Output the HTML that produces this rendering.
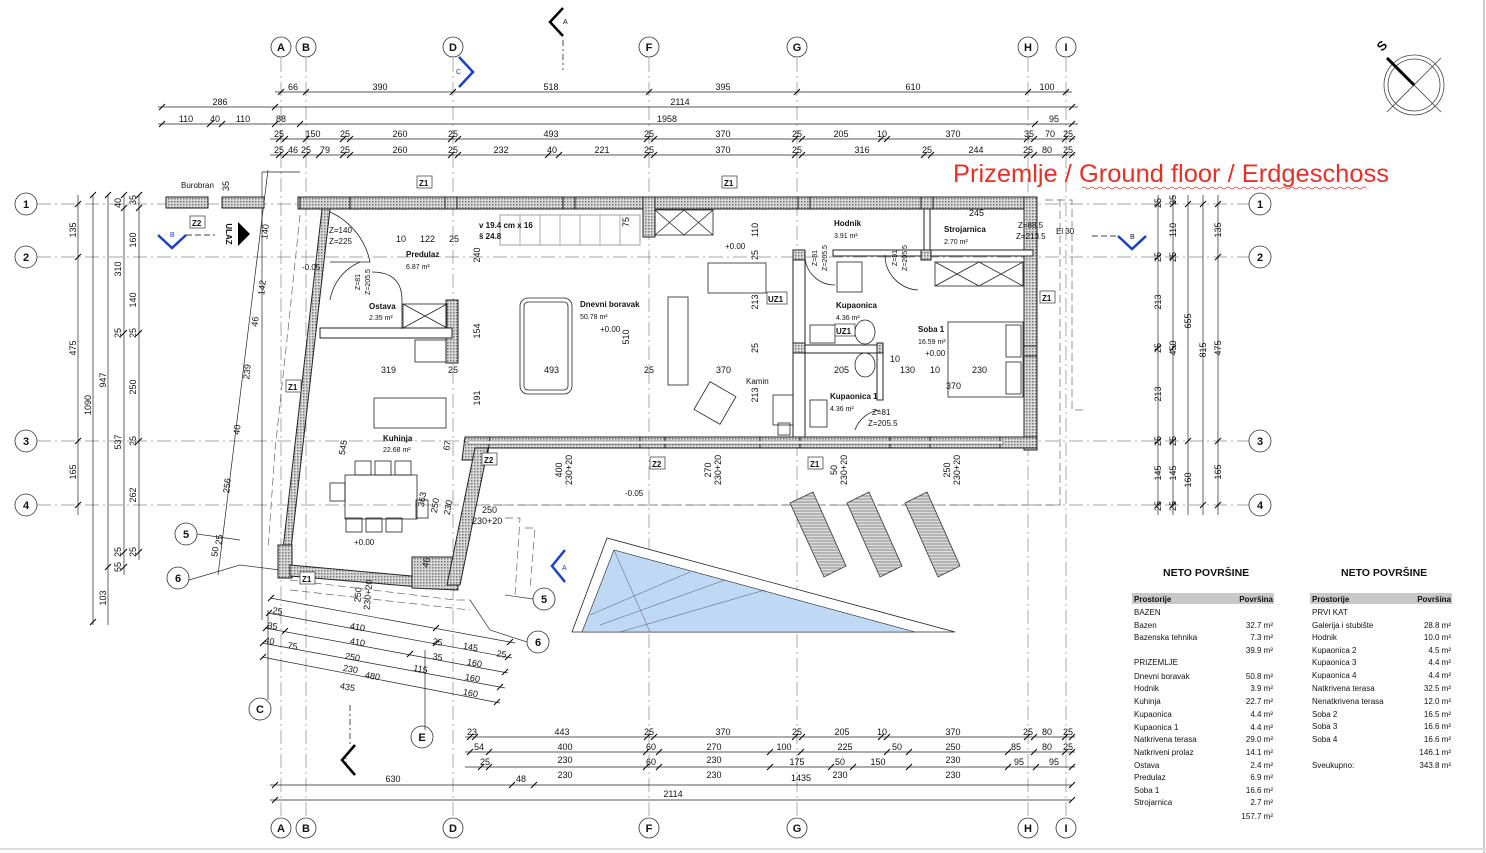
<!DOCTYPE html>
<html><head><meta charset="utf-8"><style>
html,body{margin:0;padding:0;background:#fff}
svg{display:block}
text{font-family:"Liberation Sans",Arial,sans-serif;fill:#111}
.d{font-size:9px}
.r{font-size:8px}
.s{font-size:7px}
.c{font-size:11px;font-weight:bold}
</style></head><body>
<svg width="1486" height="853" viewBox="0 0 1486 853" xmlns="http://www.w3.org/2000/svg">
<defs>
<pattern id="h" width="3" height="3" patternUnits="userSpaceOnUse"><rect width="3" height="3" fill="#d8d8d8"/><rect width="1.5" height="1.5" fill="#777"/></pattern>
<pattern id="ls" width="3" height="3" patternUnits="userSpaceOnUse"><rect width="3" height="3" fill="#ddd"/><line x1="0" y1="1" x2="3" y2="1" stroke="#555" stroke-width="0.6"/></pattern>
</defs>
<rect width="1486" height="853" fill="#fff"/>
<line x1="1484" y1="0" x2="1484" y2="853" stroke="#ccc" stroke-width="2"/>
<line x1="0" y1="849" x2="1486" y2="849" stroke="#ddd" stroke-width="2"/>

<!-- grid lines -->
<g stroke="#888" stroke-width="0.7" stroke-dasharray="14,4,2,4" fill="none">
<line x1="281" y1="58" x2="281" y2="818"/><line x1="306" y1="58" x2="306" y2="818"/>
<line x1="453" y1="58" x2="453" y2="818"/><line x1="649" y1="58" x2="649" y2="818"/>
<line x1="797" y1="58" x2="797" y2="818"/><line x1="1028" y1="58" x2="1028" y2="818"/>
<line x1="1066" y1="58" x2="1066" y2="818"/>
<line x1="37" y1="204" x2="1249" y2="204"/><line x1="37" y1="257" x2="1249" y2="257"/>
<line x1="37" y1="441" x2="1249" y2="441"/><line x1="37" y1="505" x2="1249" y2="505"/>
</g>
<!-- grid circles -->
<g fill="#fff" stroke="#333" stroke-width="0.8">
<circle cx="281" cy="47" r="10"/><circle cx="306" cy="47" r="10"/><circle cx="453" cy="47" r="10"/><circle cx="649" cy="47" r="10"/><circle cx="797" cy="47" r="10"/><circle cx="1028" cy="47" r="10"/><circle cx="1066" cy="47" r="10"/>
<circle cx="281" cy="828" r="10"/><circle cx="306" cy="828" r="10"/><circle cx="453" cy="828" r="10"/><circle cx="649" cy="828" r="10"/><circle cx="797" cy="828" r="10"/><circle cx="1028" cy="828" r="10"/><circle cx="1066" cy="828" r="10"/>
<circle cx="26" cy="204" r="11"/><circle cx="26" cy="257" r="11"/><circle cx="26" cy="441" r="11"/><circle cx="26" cy="505" r="11"/>
<circle cx="1260" cy="204" r="11"/><circle cx="1260" cy="257" r="11"/><circle cx="1260" cy="441" r="11"/><circle cx="1260" cy="505" r="11"/>
<circle cx="186" cy="534" r="11"/><circle cx="178" cy="578" r="11"/><circle cx="544" cy="599" r="11"/><circle cx="538" cy="642" r="11"/>
<circle cx="260" cy="709" r="11"/><circle cx="422" cy="737" r="11"/>
</g>
<g text-anchor="middle">
<text x="281" y="51" class="c">A</text><text x="306" y="51" class="c">B</text><text x="453" y="51" class="c">D</text><text x="649" y="51" class="c">F</text><text x="797" y="51" class="c">G</text><text x="1028" y="51" class="c">H</text><text x="1066" y="51" class="c">I</text>
<text x="281" y="832" class="c">A</text><text x="306" y="832" class="c">B</text><text x="453" y="832" class="c">D</text><text x="649" y="832" class="c">F</text><text x="797" y="832" class="c">G</text><text x="1028" y="832" class="c">H</text><text x="1066" y="832" class="c">I</text>
<text x="26" y="208" class="c">1</text><text x="26" y="261" class="c">2</text><text x="26" y="445" class="c">3</text><text x="26" y="509" class="c">4</text>
<text x="1260" y="208" class="c">1</text><text x="1260" y="261" class="c">2</text><text x="1260" y="445" class="c">3</text><text x="1260" y="509" class="c">4</text>
<text x="186" y="538" class="c">5</text><text x="178" y="582" class="c">6</text><text x="544" y="603" class="c">5</text><text x="538" y="646" class="c">6</text>
<text x="260" y="713" class="c">C</text><text x="422" y="741" class="c">E</text>
</g>
<g stroke="#333" stroke-width="0.7" fill="none">
<polyline points="197,534 240,540"/><polyline points="189,580 240,565 280,570"/>
<polyline points="533,599 505,595"/><polyline points="527,642 490,630 470,600"/>
</g>

<!-- horizontal dims -->
<g stroke="#222" stroke-width="0.7" fill="none">
<line x1="275" y1="92" x2="1072" y2="92"/>
<line x1="158" y1="107" x2="1078" y2="107"/>
<line x1="158" y1="124" x2="1078" y2="124"/>
<line x1="270" y1="139" x2="1075" y2="139"/>
<line x1="270" y1="155" x2="1075" y2="155"/>
<line x1="465" y1="737" x2="1075" y2="737"/>
<line x1="465" y1="752" x2="1075" y2="752"/>
<line x1="465" y1="767" x2="1075" y2="767"/>
<line x1="270" y1="785" x2="1072" y2="785"/>
<line x1="270" y1="800" x2="1072" y2="800"/>
</g>
<g stroke="#000" stroke-width="1">
<path d="M278,95l6,-6M303,95l6,-6M450,95l6,-6M646,95l6,-6M794,95l6,-6M1025,95l6,-6M1063,95l6,-6"/>
<path d="M159,110l6,-6M272,110l6,-6M1069,110l6,-6"/>
<path d="M159,127l6,-6M207,127l6,-6M219,127l6,-6M272,127l6,-6M297,127l6,-6M1032,127l6,-6M1069,127l6,-6"/>
<path d="M276,142l6,-6M282,142l6,-6M303,142l6,-6M340,142l6,-6M347,142l6,-6M448,142l6,-6M455,142l6,-6M644,142l6,-6M651,142l6,-6M792,142l6,-6M799,142l6,-6M878,142l6,-6M884,142l6,-6M1024,142l6,-6M1031,142l6,-6M1062,142l6,-6M1069,142l6,-6"/>
<path d="M276,158l6,-6M282,158l6,-6M303,158l6,-6M316,158l6,-6M340,158l6,-6M347,158l6,-6M448,158l6,-6M455,158l6,-6M545,158l6,-6M556,158l6,-6M644,158l6,-6M651,158l6,-6M792,158l6,-6M799,158l6,-6M921,158l6,-6M928,158l6,-6M1024,158l6,-6M1031,158l6,-6M1062,158l6,-6M1069,158l6,-6"/>
<path d="M467,740l6,-6M472,740l6,-6M644,740l6,-6M651,740l6,-6M792,740l6,-6M799,740l6,-6M878,740l6,-6M884,740l6,-6M1024,740l6,-6M1031,740l6,-6M1062,740l6,-6M1069,740l6,-6"/>
<path d="M467,755l6,-6M486,755l6,-6M643,755l6,-6M656,755l6,-6M767,755l6,-6M798,755l6,-6M884,755l6,-6M906,755l6,-6M1005,755l6,-6M1031,755l6,-6M1062,755l6,-6M1069,755l6,-6"/>
<path d="M478,770l6,-6M486,770l6,-6M643,770l6,-6M656,770l6,-6M767,770l6,-6M828,770l6,-6M850,770l6,-6M906,770l6,-6M1005,770l6,-6M1033,770l6,-6M1069,770l6,-6"/>
<path d="M272,788l6,-6M509,788l6,-6M531,788l6,-6M1069,788l6,-6"/>
<path d="M272,803l6,-6M1069,803l6,-6"/>
</g>
<g class="d" text-anchor="middle">
<text x="293" y="90">66</text><text x="380" y="90">390</text><text x="551" y="90">518</text><text x="723" y="90">395</text><text x="913" y="90">610</text><text x="1047" y="90">100</text>
<text x="220" y="105">286</text><text x="680" y="105">2114</text>
<text x="186" y="122">110</text><text x="215" y="122">40</text><text x="243" y="122">110</text><text x="281" y="122">88</text><text x="667" y="122">1958</text><text x="1054" y="122">95</text>
<text x="279" y="137">25</text><text x="313" y="137">150</text><text x="345" y="137">25</text><text x="400" y="137">260</text><text x="453" y="137">25</text><text x="551" y="137">493</text><text x="649" y="137">25</text><text x="723" y="137">370</text><text x="797" y="137">25</text><text x="841" y="137">205</text><text x="882" y="137">10</text><text x="953" y="137">370</text><text x="1029" y="137">35</text><text x="1050" y="137">70</text><text x="1068" y="137">25</text>
<text x="279" y="153">25</text><text x="293" y="153">46</text><text x="306" y="153">25</text><text x="325" y="153">79</text><text x="345" y="153">25</text><text x="400" y="153">260</text><text x="453" y="153">25</text><text x="501" y="153">232</text><text x="552" y="153">40</text><text x="602" y="153">221</text><text x="649" y="153">25</text><text x="723" y="153">370</text><text x="797" y="153">25</text><text x="862" y="153">316</text><text x="927" y="153">25</text><text x="976" y="153">244</text><text x="1028" y="153">25</text><text x="1047" y="153">80</text><text x="1068" y="153">25</text>
<text x="472" y="735">23</text><text x="562" y="735">443</text><text x="649" y="735">25</text><text x="723" y="735">370</text><text x="797" y="735">25</text><text x="842" y="735">205</text><text x="882" y="735">10</text><text x="953" y="735">370</text><text x="1028" y="735">25</text><text x="1047" y="735">80</text><text x="1068" y="735">25</text>
<text x="479" y="750">54</text><text x="565" y="750">400</text><text x="651" y="750">60</text><text x="714" y="750">270</text><text x="784" y="750">100</text><text x="845" y="750">225</text><text x="897" y="750">50</text><text x="953" y="750">250</text><text x="1016" y="750">85</text><text x="1047" y="750">80</text><text x="1068" y="750">25</text>
<text x="485" y="765">25</text><text x="565" y="763">230</text><text x="651" y="765">60</text><text x="714" y="763">230</text><text x="797" y="765">175</text><text x="840" y="765">50</text><text x="878" y="765">150</text><text x="953" y="763">230</text><text x="1019" y="765">95</text><text x="1054" y="765">95</text>
<text x="565" y="778">230</text><text x="714" y="778">230</text><text x="801" y="781">1435</text><text x="840" y="778">230</text><text x="953" y="778">230</text>
<text x="393" y="782">630</text><text x="521" y="782">48</text>
<text x="673" y="797">2114</text>
</g>

<!-- vertical dims -->
<g stroke="#222" stroke-width="0.7">
<line x1="78" y1="195" x2="78" y2="515"/><line x1="93" y1="195" x2="93" y2="625"/><line x1="108" y1="195" x2="108" y2="625"/><line x1="124" y1="195" x2="124" y2="575"/><line x1="139" y1="195" x2="139" y2="560"/>
<line x1="1158" y1="195" x2="1158" y2="515"/><line x1="1173" y1="195" x2="1173" y2="515"/><line x1="1188" y1="195" x2="1188" y2="515"/><line x1="1203" y1="195" x2="1203" y2="515"/><line x1="1218" y1="195" x2="1218" y2="515"/>
<line x1="262" y1="172" x2="262" y2="620"/><line x1="262" y1="172" x2="300" y2="172"/>
</g>
<g stroke="#000" stroke-width="1">
<path d="M75,207l6,-6M75,260l6,-6M75,444l6,-6M75,508l6,-6M90,198l6,-6M90,625l6,-6M105,198l6,-6M105,570l6,-6M121,198l6,-6M121,211l6,-6M121,336l6,-6M121,555l6,-6M121,570l6,-6M136,198l6,-6M136,211l6,-6M136,336l6,-6M136,444l6,-6M136,555l6,-6"/>
<path d="M1155,207l6,-6M1155,260l6,-6M1155,351l6,-6M1155,444l6,-6M1155,508l6,-6M1170,207l6,-6M1170,260l6,-6M1170,351l6,-6M1170,444l6,-6M1170,508l6,-6M1185,207l6,-6M1185,444l6,-6M1200,207l6,-6M1200,508l6,-6M1215,207l6,-6M1215,260l6,-6M1215,444l6,-6M1215,508l6,-6"/>
</g>
<g class="d" text-anchor="middle">
<text transform="translate(76,230) rotate(-90)">135</text><text transform="translate(76,348) rotate(-90)">475</text><text transform="translate(76,472) rotate(-90)">165</text>
<text transform="translate(91,405) rotate(-90)">1090</text>
<text transform="translate(106,380) rotate(-90)">947</text><text transform="translate(106,598) rotate(-90)">103</text>
<text transform="translate(121,203) rotate(-90)">40</text><text transform="translate(121,269) rotate(-90)">310</text><text transform="translate(121,333) rotate(-90)">25</text><text transform="translate(121,442) rotate(-90)">537</text><text transform="translate(121,552) rotate(-90)">25</text><text transform="translate(121,567) rotate(-90)">55</text>
<text transform="translate(136,200) rotate(-90)">35</text><text transform="translate(136,240) rotate(-90)">160</text><text transform="translate(136,300) rotate(-90)">140</text><text transform="translate(136,333) rotate(-90)">25</text><text transform="translate(136,387) rotate(-90)">250</text><text transform="translate(136,441) rotate(-90)">25</text><text transform="translate(136,495) rotate(-90)">262</text><text transform="translate(136,552) rotate(-90)">25</text>
<text transform="translate(1161,203) rotate(-90)">25</text><text transform="translate(1161,257) rotate(-90)">25</text><text transform="translate(1161,302) rotate(-90)">213</text><text transform="translate(1161,348) rotate(-90)">25</text><text transform="translate(1161,394) rotate(-90)">213</text><text transform="translate(1161,441) rotate(-90)">25</text><text transform="translate(1161,473) rotate(-90)">145</text><text transform="translate(1161,506) rotate(-90)">25</text>
<text transform="translate(1176,200) rotate(-90)">35</text><text transform="translate(1176,230) rotate(-90)">110</text><text transform="translate(1176,257) rotate(-90)">25</text><text transform="translate(1176,348) rotate(-90)">450</text><text transform="translate(1176,441) rotate(-90)">25</text><text transform="translate(1176,473) rotate(-90)">145</text><text transform="translate(1176,506) rotate(-90)">25</text>
<text transform="translate(1191,321) rotate(-90)">655</text><text transform="translate(1191,480) rotate(-90)">160</text>
<text transform="translate(1206,350) rotate(-90)">815</text>
<text transform="translate(1221,230) rotate(-90)">135</text><text transform="translate(1221,348) rotate(-90)">475</text><text transform="translate(1221,472) rotate(-90)">165</text>
</g>

<!-- slanted dims -->
<g stroke="#222" stroke-width="0.7" fill="none">
<line x1="268" y1="170" x2="218" y2="575"/>
<line x1="270" y1="598" x2="515" y2="643"/>
<line x1="268" y1="613" x2="512" y2="658"/>
<line x1="265" y1="628" x2="508" y2="673"/>
<line x1="262" y1="643" x2="505" y2="688"/>
<line x1="262" y1="657" x2="500" y2="703"/>
<line x1="268" y1="610" x2="268" y2="700"/><line x1="425" y1="650" x2="425" y2="730"/>
</g>
<g stroke="#000" stroke-width="1">
<path d="M268,601l6,-6M433,631l6,-6M507,645l6,-6M266,616l6,-6M433,646l6,-6M505,660l6,-6M263,631l6,-6M282,634l6,-6M407,657l6,-6M502,675l6,-6M260,646l6,-6M497,690l6,-6M260,660l6,-6M494,705l6,-6"/>
</g>
<g class="d" text-anchor="middle">
<text transform="translate(268,232) rotate(-83)">140</text><text transform="translate(265,288) rotate(-83)">142</text><text transform="translate(258,322) rotate(-83)">46</text><text transform="translate(250,372) rotate(-83)">239</text><text transform="translate(240,430) rotate(-83)">40</text><text transform="translate(230,486) rotate(-83)">256</text><text transform="translate(222,540) rotate(-83)">25</text><text transform="translate(218,552) rotate(-83)">50</text>
<text transform="translate(277,614) rotate(10)">25</text><text transform="translate(357,630) rotate(10)">410</text><text transform="translate(437,645) rotate(10)">25</text><text transform="translate(470,650) rotate(10)">145</text><text transform="translate(501,657) rotate(10)">25</text>
<text transform="translate(272,629) rotate(10)">35</text><text transform="translate(357,645) rotate(10)">410</text><text transform="translate(437,660) rotate(10)">35</text><text transform="translate(474,666) rotate(10)">160</text>
<text transform="translate(269,644) rotate(10)">40</text><text transform="translate(292,649) rotate(10)">75</text><text transform="translate(352,660) rotate(10)">250</text><text transform="translate(420,672) rotate(10)">115</text><text transform="translate(472,681) rotate(10)">160</text>
<text transform="translate(350,672) rotate(10)">230</text><text transform="translate(372,679) rotate(10)">480</text><text transform="translate(470,696) rotate(10)">160</text>
<text transform="translate(347,690) rotate(10)">435</text>
</g>

<!-- outer dashed frames -->
<g stroke="#666" stroke-width="0.7" fill="none" stroke-dasharray="8,4">
<polyline points="300,215 288,330 275,450 268,550"/>
<polyline points="470,505 1060,505 1060,195"/>
<polyline points="1045,200 1072,200 1072,410 1085,410"/>
<polyline points="505,518 520,518 515,595"/>
<polyline points="525,528 535,528 530,590"/>
<polyline points="290,580 455,600 470,600"/>
<polyline points="290,590 470,610"/>
</g>

<!-- walls -->
<g fill="url(#h)" stroke="#222" stroke-width="1">
<rect x="298" y="197" width="739" height="12"/>
<rect x="1024" y="197" width="13" height="253"/>
<rect x="468" y="437" width="569" height="11"/>
<polygon points="322,209 330,209 288,575 280,575"/>
<polygon points="278,545 292,545 292,578 278,578"/>
<polygon points="290,565 455,580 455,590 290,576"/>
<polygon points="412,557 458,557 458,590 412,588"/>
<polygon points="465,437 490,437 487,460 462,460"/>
<polygon points="475,448 488,448 460,585 447,585"/>
<rect x="643" y="197" width="12" height="40"/>
<rect x="446" y="300" width="12" height="63"/>
<rect x="320" y="328" width="132" height="10" fill="#fff"/>
<rect x="793" y="250" width="12" height="187" fill="#fff"/>
<rect x="793" y="345" width="90" height="8" fill="#fff"/>
<rect x="833" y="250" width="200" height="6" fill="#fff"/>
<rect x="924" y="205" width="6" height="50" fill="#fff"/>
<rect x="877" y="345" width="6" height="55" fill="#fff"/>
<rect x="793" y="250" width="12" height="10"/><rect x="793" y="343" width="12" height="10"/><rect x="877" y="343" width="6" height="10"/>
<rect x="921" y="250" width="10" height="10"/><rect x="1024" y="346" width="13" height="10"/>
<rect x="640" y="437" width="25" height="11"/><rect x="760" y="437" width="40" height="11"/><rect x="890" y="437" width="40" height="11"/><rect x="1000" y="437" width="37" height="11"/>
<rect x="563" y="197" width="12" height="12"/><rect x="445" y="197" width="12" height="12"/><rect x="798" y="197" width="12" height="12"/><rect x="921" y="197" width="12" height="12"/>
<rect x="300" y="197" width="50" height="12"/>
<rect x="166" y="197" width="42" height="11"/><rect x="222" y="197" width="42" height="11"/>
</g>
<rect x="468" y="441" width="535" height="3" fill="#fff" stroke="#444" stroke-width="0.5"/>
<!-- doors & furniture -->
<g stroke="#222" stroke-width="0.8" fill="none">
<path d="M330,212 A70,70 0 0 1 370,262 L330,262"/>
<path d="M330,300 A50,50 0 0 1 360,262"/>
<path d="M372,272 Q402,272 402,300 L402,329"/>
<rect x="403" y="304" width="44" height="24"/><path d="M403,304l44,24M447,304l-44,24"/>
<rect x="415" y="340" width="31" height="22"/>
<rect x="520" y="298" width="52" height="96" rx="8"/><rect x="524" y="302" width="44" height="88" rx="4"/>
<rect x="655" y="210" width="58" height="25"/><path d="M655,210l29,25M684,210l-29,25M684,210l29,25M713,210l-29,25"/>
<rect x="708" y="263" width="58" height="30"/><rect x="668" y="297" width="20" height="88"/>
<rect x="700" y="387" width="30" height="32" transform="rotate(30 715 403)"/>
<rect x="500" y="215" width="140" height="30" stroke="#888"/>
<path d="M520,215l0,30M540,215l0,30M560,215l0,30M580,215l0,30M600,215l0,30M620,215l0,30" stroke="#999"/>
<path d="M805,258 A30,30 0 0 0 835,285" /><path d="M885,255 A35,35 0 0 0 918,290"/>
<rect x="837" y="262" width="25" height="30"/>
<rect x="935" y="262" width="88" height="24"/><path d="M935,262l44,24M979,262l-44,24M979,262l44,24M1023,262l-44,24"/>
<rect x="948" y="322" width="75" height="75"/><rect x="1006" y="325" width="15" height="32"/><rect x="1006" y="362" width="15" height="32"/>
<rect x="810" y="325" width="25" height="18"/><ellipse cx="865" cy="332" rx="10" ry="12"/><ellipse cx="865" cy="365" rx="10" ry="12"/>
<rect x="810" y="400" width="17" height="27"/>
<path d="M855,430 A30,30 0 0 1 880,410"/>
<rect x="773" y="395" width="20" height="30"/><rect x="778" y="423" width="12" height="12"/>
<rect x="374" y="398" width="72" height="30"/>
<rect x="345" y="475" width="72" height="44"/><rect x="330" y="483" width="15" height="18"/>
<rect x="355" y="461" width="16" height="14"/><rect x="375" y="461" width="16" height="14"/><rect x="395" y="461" width="16" height="14"/>
<rect x="346" y="518" width="16" height="14"/><rect x="366" y="518" width="16" height="14"/><rect x="386" y="518" width="16" height="14"/>
<rect x="416" y="500" width="12" height="18"/>
</g>
<!-- pool -->
<polygon points="607,538 572,632 955,632" fill="#fff" stroke="#222" stroke-width="0.8"/>
<polygon points="614,550 582,632 915,632" fill="#bfd9f5" stroke="#222" stroke-width="0.6"/>
<g stroke="#556" stroke-width="0.5"><line x1="614" y1="550" x2="650" y2="632"/><line x1="590" y1="615" x2="690" y2="572"/><line x1="600" y1="625" x2="725" y2="580"/><line x1="620" y1="632" x2="765" y2="590"/></g>
<!-- loungers -->
<g fill="url(#ls)" stroke="#333" stroke-width="0.8">
<polygon points="790,503 813,492 846,566 824,577"/>
<polygon points="847,503 869,492 902,566 880,577"/>
<polygon points="905,503 927,492 960,566 938,577"/>
</g>
<!-- section markers -->
<g stroke="#000" stroke-width="2.5" fill="none">
<polyline points="563,8 550,22 563,36"/><polyline points="355,745 342,760 355,775"/>
</g>
<line x1="563" y1="40" x2="563" y2="70" stroke="#000" stroke-width="0.7" stroke-dasharray="6,3,2,3"/>
<line x1="350" y1="705" x2="350" y2="745" stroke="#000" stroke-width="0.7" stroke-dasharray="6,3,2,3"/>
<g stroke="#1a3fc8" stroke-width="2.5" fill="none">
<polyline points="158,235 172,248 186,235"/><polyline points="1118,236 1132,249 1146,236"/>
<polyline points="565,550 552,566 565,582"/><polyline points="459,57 473,72 459,87"/>
</g>
<line x1="1092" y1="236" x2="1118" y2="236" stroke="#000" stroke-width="0.7" stroke-dasharray="6,3"/>
<line x1="186" y1="235" x2="215" y2="235" stroke="#000" stroke-width="0.7" stroke-dasharray="6,3"/>
<text x="563" y="24" class="s">A</text><text x="342" y="763" class="s">C</text>
<text x="170" y="237" class="s" style="fill:#1a3fc8">B</text><text x="1130" y="239" class="s">B</text><text x="562" y="570" class="s" style="fill:#1a3fc8">A</text><text x="456" y="74" class="s" style="fill:#1a3fc8">C</text>
<polygon points="238,222 250,234 238,246" fill="#000"/>
<text transform="translate(226,234) rotate(90)" class="r" text-anchor="middle" font-weight="bold">ULAZ</text>

<!-- compass -->
<g stroke="#444" stroke-width="0.8" fill="none">
<circle cx="1414" cy="85" r="30"/><circle cx="1414" cy="85" r="26"/>
<line x1="1387" y1="112" x2="1441" y2="58"/><line x1="1387" y1="58" x2="1441" y2="112"/>
</g>
<line x1="1387" y1="58" x2="1414" y2="85" stroke="#000" stroke-width="3"/>
<text transform="translate(1382,52) rotate(-45)" font-size="13" font-weight="bold">S</text>

<!-- title -->
<text x="953" y="182" font-size="25" textLength="436" lengthAdjust="spacingAndGlyphs" style="fill:#e2312b">Prizemlje / Ground floor / Erdgeschoss</text>
<path d="M1082,188 q2,-2 4,0 t4,0 t4,0 t4,0 t4,0 t4,0 t4,0 t4,0 t4,0 t4,0 t4,0 t4,0 t4,0 t4,0 t4,0 t4,0 t4,0 t4,0 t4,0 t4,0 t4,0 t4,0 t4,0 t4,0 t4,0 t4,0 t4,0 t4,0 t4,0 t4,0 t4,0 t4,0 t4,0 t4,0 t4,0 t4,0 t4,0 t4,0 t4,0 t4,0 t4,0 t4,0 t4,0 t4,0 t4,0 t4,0 t4,0 t4,0 t4,0 t4,0 t4,0 t4,0 t4,0 t4,0 t4,0 t4,0 t4,0 t4,0 t4,0 t4,0 t4,0 t4,0 t4,0 t4,0 t4,0 t4,0 t4,0 t4,0 t4,0 t4,0 t4,0" stroke="#e2312b" stroke-width="0.7" fill="none"/>

<!-- room labels -->
<g class="r">
<text x="181" y="188">Burobran</text>
<text x="406" y="257" font-weight="bold">Predulaz</text><text x="406" y="269" class="s">6.87 m²</text>
<text x="369" y="309" font-weight="bold">Ostava</text><text x="369" y="320" class="s">2.35 m²</text>
<text x="580" y="307" font-weight="bold">Dnevni boravak</text><text x="580" y="319" class="s">50.78 m²</text><text x="600" y="332">+0.00</text>
<text x="725" y="249">+0.00</text>
<text x="834" y="226" font-weight="bold">Hodnik</text><text x="834" y="238" class="s">3.91 m²</text>
<text x="944" y="232" font-weight="bold">Strojarnica</text><text x="944" y="244" class="s">2.70 m²</text>
<text x="836" y="308" font-weight="bold">Kupaonica</text><text x="836" y="320" class="s">4.36 m²</text>
<text x="918" y="332" font-weight="bold">Soba 1</text><text x="918" y="344" class="s">16.59 m²</text><text x="925" y="356">+0.00</text>
<text x="830" y="399" font-weight="bold">Kupaonica 1</text><text x="830" y="411" class="s">4.36 m²</text>
<text x="746" y="384">Kamin</text>
<text x="383" y="441" font-weight="bold">Kuhinja</text><text x="383" y="452" class="s">22.68 m²</text>
<text x="354" y="545">+0.00</text><text x="302" y="270">-0.05</text><text x="625" y="496">-0.05</text>
<text x="479" y="228" font-weight="bold">v 19.4 cm x 16</text><text x="479" y="239" font-weight="bold">š 24.8</text>
<text x="1018" y="228">Z=88.5</text><text x="1016" y="239">Z=213.5</text><text x="1056" y="234">El 30</text>
<text x="872" y="415">Z=81</text><text x="868" y="426">Z=205.5</text>
<text x="329" y="233">Z=140</text><text x="329" y="244">Z=225</text>
<text x="969" y="216" class="d">245</text><text x="396" y="242" class="d">10</text><text x="420" y="242" class="d">122</text><text x="449" y="242" class="d">25</text>
<text x="381" y="373" class="d">319</text><text x="448" y="373" class="d">25</text><text x="544" y="373" class="d">493</text><text x="644" y="373" class="d">25</text><text x="716" y="373" class="d">370</text><text x="834" y="373" class="d">205</text><text x="900" y="373" class="d">130</text><text x="930" y="373" class="d">10</text><text x="972" y="373" class="d">230</text><text x="946" y="389" class="d">370</text><text x="890" y="362" class="d">10</text>
<text x="482" y="513" class="d">250</text><text x="472" y="524" class="d">230+20</text>
</g>
<g class="d" text-anchor="middle">
<text transform="translate(480,255) rotate(-90)">240</text><text transform="translate(480,331) rotate(-90)">154</text><text transform="translate(480,398) rotate(-90)">191</text><text transform="translate(629,222) rotate(-90)">75</text><text transform="translate(629,337) rotate(-90)">510</text>
<text transform="translate(758,230) rotate(-90)">110</text><text transform="translate(758,255) rotate(-90)">25</text><text transform="translate(758,302) rotate(-90)">213</text><text transform="translate(758,348) rotate(-90)">25</text><text transform="translate(758,395) rotate(-90)">213</text>
<text transform="translate(346,448) rotate(-80)">545</text><text transform="translate(450,446) rotate(-80)">67</text><text transform="translate(425,500) rotate(-80)">363</text><text transform="translate(438,506) rotate(-80)">250</text><text transform="translate(451,508) rotate(-80)">230</text><text transform="translate(429,563) rotate(-80)">46</text>
<text transform="translate(562,470) rotate(-90)">400</text><text transform="translate(572,470) rotate(-90)">230+20</text><text transform="translate(711,470) rotate(-90)">270</text><text transform="translate(721,470) rotate(-90)">230+20</text><text transform="translate(837,470) rotate(-90)">50</text><text transform="translate(847,470) rotate(-90)">230+20</text><text transform="translate(950,470) rotate(-90)">250</text><text transform="translate(960,470) rotate(-90)">230+20</text>
<text transform="translate(361,595) rotate(-85)">250</text><text transform="translate(371,595) rotate(-85)">230+20</text>
<text transform="translate(229,186) rotate(-90)">35</text>
<text transform="translate(360,282) rotate(-90)" class="s">Z=81</text><text transform="translate(370,282) rotate(-90)" class="s">Z=205.5</text>
<text transform="translate(817,258) rotate(-90)" class="s">Z=81</text><text transform="translate(827,258) rotate(-90)" class="s">Z=205.5</text>
<text transform="translate(897,258) rotate(-90)" class="s">Z=91</text><text transform="translate(907,258) rotate(-90)" class="s">Z=205.5</text>
</g>
<!-- tags -->
<g fill="#fff" stroke="#333" stroke-width="0.7">
<rect x="417" y="176" width="15" height="12"/><rect x="722" y="176" width="15" height="12"/><rect x="1040" y="291" width="15" height="12"/>
<rect x="286" y="380" width="15" height="12"/><rect x="482" y="453" width="15" height="12"/><rect x="650" y="457" width="15" height="12"/><rect x="808" y="457" width="15" height="12"/><rect x="300" y="572" width="15" height="12"/>
<rect x="190" y="216" width="15" height="12"/><rect x="767" y="292" width="20" height="12"/><rect x="835" y="324" width="20" height="12"/>
</g>
<g class="r" font-weight="bold">
<text x="419" y="186">Z1</text><text x="724" y="186">Z1</text><text x="1042" y="301">Z1</text><text x="288" y="390">Z1</text><text x="484" y="463">Z2</text><text x="652" y="467">Z2</text><text x="810" y="467">Z1</text><text x="302" y="582">Z1</text><text x="192" y="226">Z2</text><text x="768" y="302">UZ1</text><text x="836" y="334">UZ1</text>
</g>

<!-- tables -->
<g font-size="8">
<text x="1163" y="576" font-size="10.5" font-weight="bold">NETO POVRŠINE</text>
<rect x="1132" y="593" width="142" height="11" fill="#c8c8c8"/>
<text x="1134" y="602" font-weight="bold">Prostorije</text><text x="1273" y="602" text-anchor="end" font-weight="bold">Površina</text>
<text x="1134" y="615">BAZEN</text>
<text x="1134" y="628">Bazen</text><text x="1273" y="628" text-anchor="end">32.7 m²</text>
<text x="1134" y="640">Bazenska tehnika</text><text x="1273" y="640" text-anchor="end">7.3 m²</text>
<text x="1273" y="653" text-anchor="end">39.9 m²</text>
<text x="1134" y="665">PRIZEMLJE</text>
<text x="1134" y="679">Dnevni boravak</text><text x="1273" y="679" text-anchor="end">50.8 m²</text>
<text x="1134" y="691">Hodnik</text><text x="1273" y="691" text-anchor="end">3.9 m²</text>
<text x="1134" y="704">Kuhinja</text><text x="1273" y="704" text-anchor="end">22.7 m²</text>
<text x="1134" y="717">Kupaonica</text><text x="1273" y="717" text-anchor="end">4.4 m²</text>
<text x="1134" y="730">Kupaonica 1</text><text x="1273" y="730" text-anchor="end">4.4 m²</text>
<text x="1134" y="742">Natkrivena terasa</text><text x="1273" y="742" text-anchor="end">29.0 m²</text>
<text x="1134" y="755">Natkriveni prolaz</text><text x="1273" y="755" text-anchor="end">14.1 m²</text>
<text x="1134" y="768">Ostava</text><text x="1273" y="768" text-anchor="end">2.4 m²</text>
<text x="1134" y="780">Predulaz</text><text x="1273" y="780" text-anchor="end">6.9 m²</text>
<text x="1134" y="793">Soba 1</text><text x="1273" y="793" text-anchor="end">16.6 m²</text>
<text x="1134" y="805">Strojarnica</text><text x="1273" y="805" text-anchor="end">2.7 m²</text>
<text x="1273" y="819" text-anchor="end">157.7 m²</text>

<text x="1341" y="576" font-size="10.5" font-weight="bold">NETO POVRŠINE</text>
<rect x="1310" y="593" width="142" height="11" fill="#c8c8c8"/>
<text x="1312" y="602" font-weight="bold">Prostorije</text><text x="1451" y="602" text-anchor="end" font-weight="bold">Površina</text>
<text x="1312" y="615">PRVI KAT</text>
<text x="1312" y="628">Galerija i stubište</text><text x="1451" y="628" text-anchor="end">28.8 m²</text>
<text x="1312" y="640">Hodnik</text><text x="1451" y="640" text-anchor="end">10.0 m²</text>
<text x="1312" y="653">Kupaonica 2</text><text x="1451" y="653" text-anchor="end">4.5 m²</text>
<text x="1312" y="665">Kupaonica 3</text><text x="1451" y="665" text-anchor="end">4.4 m²</text>
<text x="1312" y="678">Kupaonica 4</text><text x="1451" y="678" text-anchor="end">4.4 m²</text>
<text x="1312" y="691">Natkrivena terasa</text><text x="1451" y="691" text-anchor="end">32.5 m²</text>
<text x="1312" y="704">Nenatkrivena terasa</text><text x="1451" y="704" text-anchor="end">12.0 m²</text>
<text x="1312" y="717">Soba 2</text><text x="1451" y="717" text-anchor="end">16.5 m²</text>
<text x="1312" y="729">Soba 3</text><text x="1451" y="729" text-anchor="end">16.6 m²</text>
<text x="1312" y="742">Soba 4</text><text x="1451" y="742" text-anchor="end">16.6 m²</text>
<text x="1451" y="755" text-anchor="end">146.1 m²</text>
<text x="1312" y="768">Sveukupno:</text><text x="1451" y="768" text-anchor="end">343.8 m²</text>
</g>
</svg>
</body></html>
